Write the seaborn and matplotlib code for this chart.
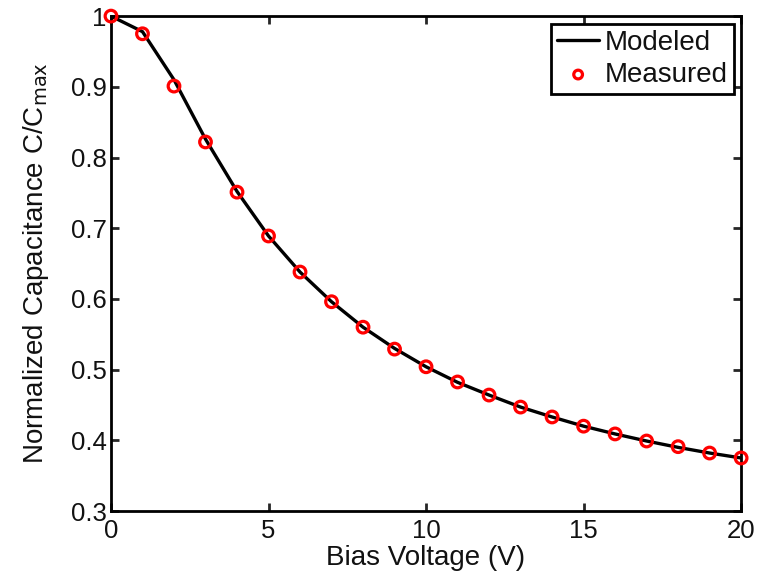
import numpy as np
import pandas as pd
import matplotlib
matplotlib.use("Agg")
import matplotlib.pyplot as plt
import seaborn as sns

# bias voltage points (V)
voltage = [0, 1, 2, 3, 4, 5, 6, 7, 8, 9, 10, 11, 12, 13, 14, 15, 16, 17, 18, 19, 20]
# modeled C/Cmax
modeled = [1.0, 0.978, 0.910, 0.826, 0.752, 0.689, 0.638, 0.596, 0.560, 0.530, 0.504,
           0.482, 0.464, 0.447, 0.433, 0.420, 0.409, 0.399, 0.390, 0.382, 0.375]
# measured C/Cmax
measured = [1.0, 0.975, 0.901, 0.822, 0.751, 0.689, 0.638, 0.596, 0.560, 0.529, 0.504,
            0.4825, 0.464, 0.447, 0.433, 0.420, 0.409, 0.399, 0.391, 0.382, 0.375]

df = pd.DataFrame({"V": voltage, "model": modeled, "meas": measured})

sns.set_style("ticks")
plt.rcParams['font.family'] = ['Liberation Sans', 'DejaVu Sans']
plt.rcParams['text.color'] = '#111111'
plt.rcParams['axes.labelcolor'] = '#111111'

fig = plt.figure(figsize=(7.68, 5.75), dpi=100)
ax = fig.add_axes([0.1445, 0.1113, 0.8205, 0.8607])

sns.lineplot(data=df, x="V", y="model", color="black", linewidth=2.4, label="Modeled", ax=ax)
sns.scatterplot(data=df, x="V", y="meas", marker="o", s=70, facecolor="none",
                edgecolor="red", linewidth=2.3, label="Measured", ax=ax, zorder=3, clip_on=False)

ax.set_xlim(0, 20)
ax.set_ylim(0.3, 1.0)
ax.set_xticks([0, 5, 10, 15, 20])
ax.set_yticks([0.3, 0.4, 0.5, 0.6, 0.7, 0.8, 0.9, 1.0])
ax.set_yticklabels(["0.3", "0.4", "0.5", "0.6", "0.7", "0.8", "0.9", "1"])
ax.tick_params(direction="in", top=True, right=True, width=2, length=6,
               labelsize=18.5, labelcolor="#111111")
ax.tick_params(axis="x", pad=6)
ax.tick_params(axis="y", pad=3)
for sp in ax.spines.values():
    sp.set_linewidth(2)
    sp.set_color("black")

ax.set_xlabel("Bias Voltage (V)", fontsize=20, labelpad=1)
ax.set_ylabel("Normalized Capacitance C/C$_{\\mathrm{max}}$", fontsize=20, labelpad=14)

leg = ax.legend(loc="upper right", fontsize=20, frameon=True, fancybox=False,
                borderaxespad=0.27, handlelength=1.5, handletextpad=0.2,
                borderpad=0.22, labelspacing=0.22, markerscale=0.75)
leg.get_frame().set_edgecolor("black")
leg.get_frame().set_linewidth(2)
leg.get_frame().set_alpha(1)

fig.savefig("out.png", dpi=100)
